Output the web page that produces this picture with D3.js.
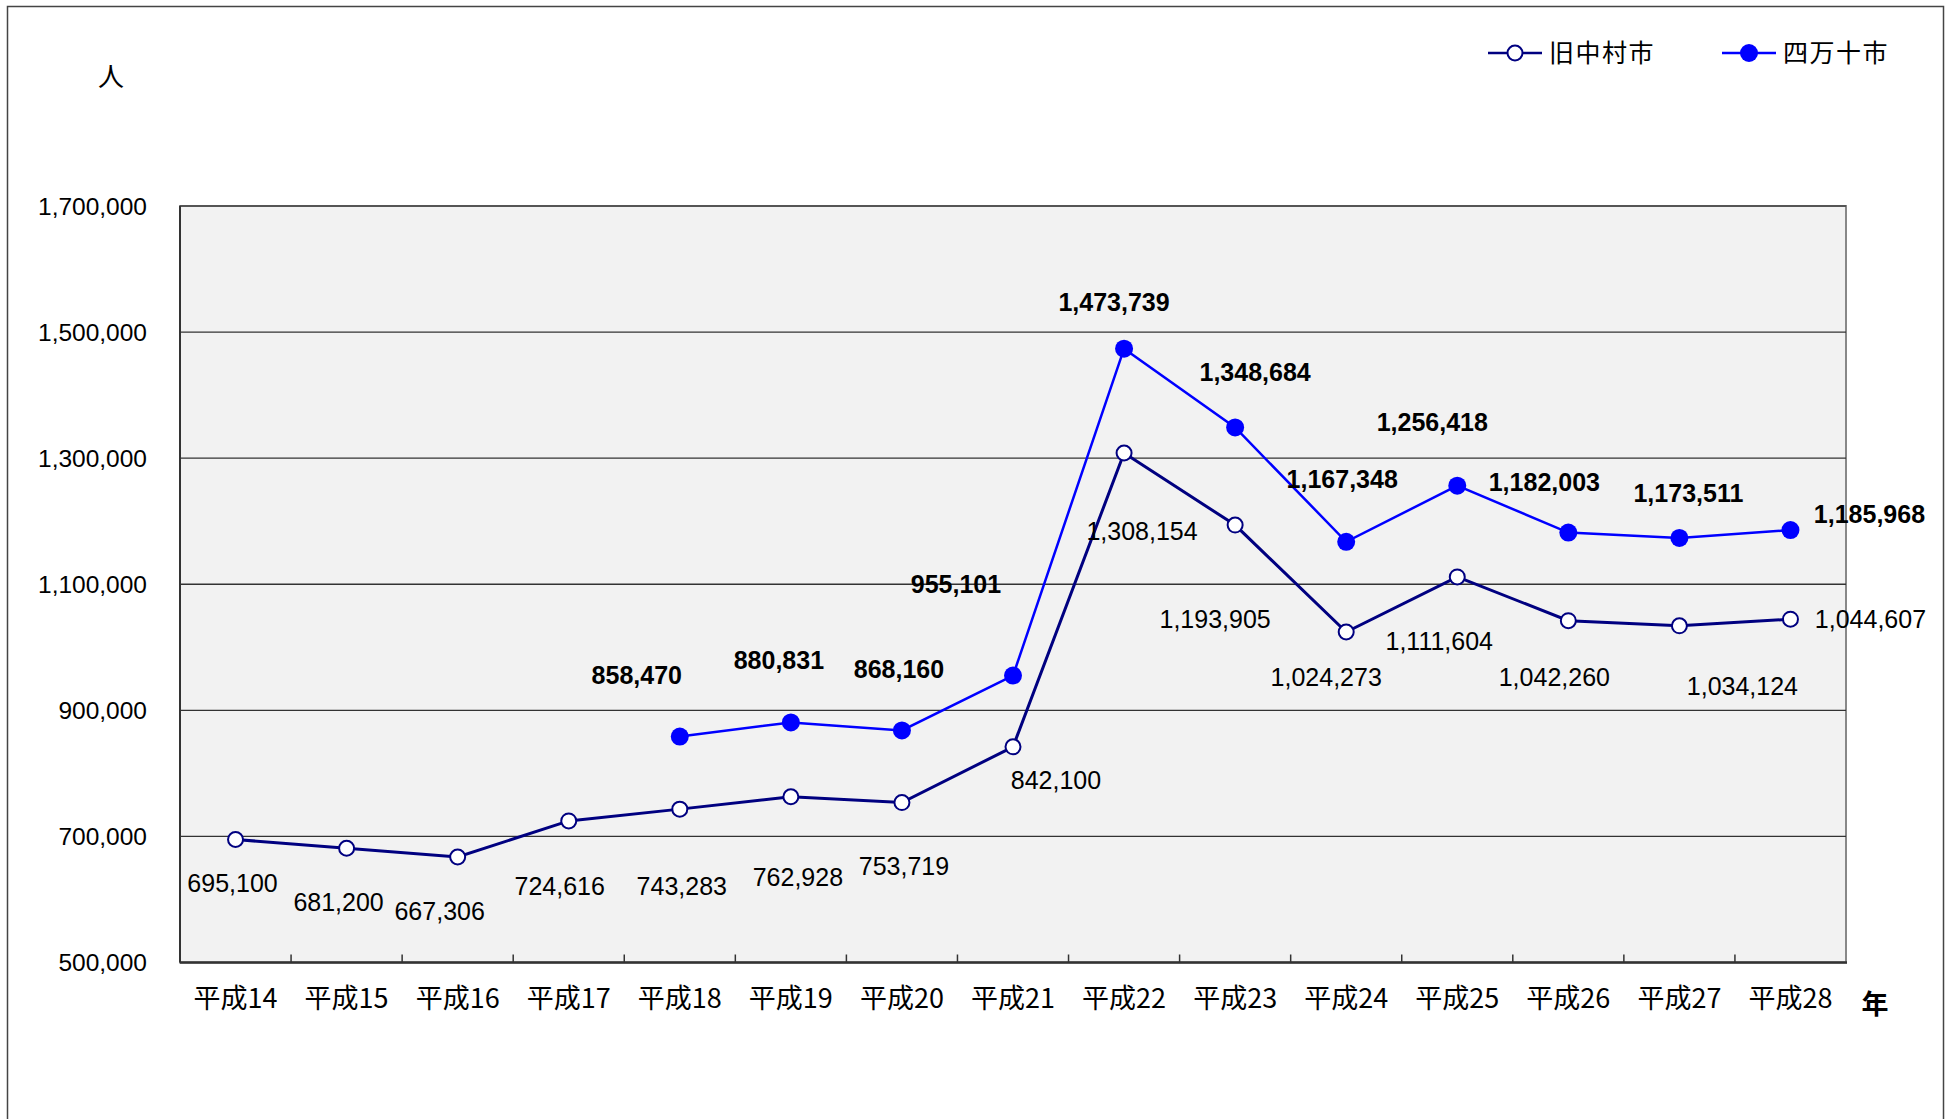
<!DOCTYPE html>
<html>
<head>
<meta charset="utf-8">
<script src="https://cdn.jsdelivr.net/npm/d3@7"></script>
<style>
  body { margin: 0; background: #fff; }
  text { font-family: "Liberation Sans", Arial, sans-serif; }
  .cjk { font-family: "Noto Sans CJK JP", "Noto Sans CJK SC", sans-serif; }
</style>
</head>
<body>
<div id="chart"></div>
<script>
var years = ["平成14","平成15","平成16","平成17","平成18","平成19","平成20","平成21","平成22","平成23","平成24","平成25","平成26","平成27","平成28"];
var nakamura = [695100, 681200, 667306, 724616, 743283, 762928, 753719, 842100, 1308154, 1193905, 1024273, 1111604, 1042260, 1034124, 1044607];
var shimanto = [null, null, null, null, 858470, 880831, 868160, 955101, 1473739, 1348684, 1167348, 1256418, 1182003, 1173511, 1185968];
var yTicks = [500000, 700000, 900000, 1100000, 1300000, 1500000, 1700000];
var seriesNames = ["旧中村市", "四万十市"];

// hand placed label offsets (px) like the original
var nakamuraLabelOff = [[-3,44],[-8,54],[-18,55],[-9,66],[2,78],[7,81],[2,64],[43,34],[18,79],[-20,95],[-20,46],[-18,65],[-14,57],[63,61],[80,1]];
var shimantoLabelOff = [null,null,null,null,[-43,-61],[-12,-62],[-3,-61],[-57,-91],[-10,-46],[20,-55],[-4,-62],[-25,-63],[-24,-50],[9,-44],[79,-15]];

var w = 1945;
var h = 1119;
var plotL = 180, plotR = 1846, plotT = 206, plotB = 962.5;

var svg = d3.select("#chart")
            .append("svg")
            .attr("width", w)
            .attr("height", h);

// outer frame
svg.append("rect")
   .attr("x", 7.5).attr("y", 6.5)
   .attr("width", 1936).attr("height", 1130)
   .attr("fill", "white")
   .attr("stroke", "#444")
   .attr("stroke-width", 1.5);

var x = d3.scaleBand()
          .domain(years)
          .range([plotL, plotR]);

var y = d3.scaleLinear()
          .domain([500000, 1700000])
          .range([plotB, plotT]);

var fmt = d3.format(",");
function cx(i) { return x(years[i]) + x.bandwidth() / 2; }

// plot background
svg.append("rect")
   .attr("x", plotL).attr("y", plotT)
   .attr("width", plotR - plotL).attr("height", plotB - plotT)
   .attr("fill", "#f2f2f2")
   .attr("stroke", "#888")
   .attr("stroke-width", 2);

// gridlines
svg.selectAll(".grid")
   .data(yTicks.slice(1, -1))
   .enter()
   .append("line")
   .attr("x1", plotL).attr("x2", plotR)
   .attr("y1", function(d) { return y(d); })
   .attr("y2", function(d) { return y(d); })
   .attr("stroke", "#333")
   .attr("stroke-width", 1.3);

svg.append("line")
   .attr("x1", plotL).attr("x2", plotR)
   .attr("y1", plotT).attr("y2", plotT)
   .attr("stroke", "#444").attr("stroke-width", 1.5);

// y axis labels
svg.selectAll(".ylab")
   .data(yTicks)
   .enter()
   .append("text")
   .attr("x", 147)
   .attr("y", function(d) { return y(d); })
   .attr("dy", "0.35em")
   .attr("text-anchor", "end")
   .attr("font-size", 24.5)
   .attr("fill", "#000")
   .text(fmt);

// axes lines
svg.append("line")
   .attr("x1", plotL).attr("x2", plotL)
   .attr("y1", plotT).attr("y2", plotB)
   .attr("stroke", "#333").attr("stroke-width", 2);
svg.append("line")
   .attr("x1", plotL).attr("x2", plotR + 1)
   .attr("y1", plotB).attr("y2", plotB)
   .attr("stroke", "#333").attr("stroke-width", 2.5);

// x ticks between categories (pointing up)
svg.selectAll(".xtick")
   .data(years.slice(1))
   .enter()
   .append("line")
   .attr("x1", function(d) { return x(d); })
   .attr("x2", function(d) { return x(d); })
   .attr("y1", plotB).attr("y2", plotB - 8)
   .attr("stroke", "#333").attr("stroke-width", 1.5);

// x labels
svg.selectAll(".xlab")
   .data(years)
   .enter()
   .append("text")
   .attr("class", "cjk")
   .attr("x", function(d) { return x(d) + x.bandwidth() / 2; })
   .attr("y", 999)
   .attr("dy", "0.35em")
   .attr("text-anchor", "middle")
   .attr("font-size", 27)
   .text(function(d) { return d; });

// unit labels
svg.append("text").attr("class", "cjk")
   .attr("x", 111).attr("y", 77).attr("dy", "0.35em")
   .attr("text-anchor", "middle").attr("font-size", 26)
   .text("人");
svg.append("text").attr("class", "cjk")
   .attr("x", 1875).attr("y", 1005).attr("dy", "0.35em")
   .attr("text-anchor", "middle").attr("font-size", 27)
   .attr("font-weight", "bold")
   .text("年");

// lines
var line = d3.line()
             .defined(function(d) { return d != null; })
             .x(function(d, i) { return cx(i); })
             .y(function(d) { return y(d); });

svg.append("path")
   .datum(nakamura)
   .attr("d", line)
   .attr("fill", "none")
   .attr("stroke", "#000080")
   .attr("stroke-width", 3);

svg.append("path")
   .datum(shimanto)
   .attr("d", line)
   .attr("fill", "none")
   .attr("stroke", "#0000ff")
   .attr("stroke-width", 2.5);

// markers
svg.selectAll(".m1")
   .data(nakamura)
   .enter()
   .append("circle")
   .attr("cx", function(d, i) { return cx(i); })
   .attr("cy", function(d) { return y(d); })
   .attr("r", 7.5)
   .attr("fill", "white")
   .attr("stroke", "#000080")
   .attr("stroke-width", 2);

svg.selectAll(".m2")
   .data(shimanto.map(function(d, i) { return {v: d, i: i}; }).filter(function(d) { return d.v != null; }))
   .enter()
   .append("circle")
   .attr("cx", function(d) { return cx(d.i); })
   .attr("cy", function(d) { return y(d.v); })
   .attr("r", 9)
   .attr("fill", "#0000ff");

// data labels
svg.selectAll(".l1")
   .data(nakamura)
   .enter()
   .append("text")
   .attr("x", function(d, i) { return cx(i) + nakamuraLabelOff[i][0]; })
   .attr("y", function(d, i) { return y(d) + nakamuraLabelOff[i][1]; })
   .attr("dy", "0.33em")
   .attr("text-anchor", "middle")
   .attr("font-size", 25)
   .text(fmt);

svg.selectAll(".l2")
   .data(shimanto.map(function(d, i) { return {v: d, i: i}; }).filter(function(d) { return d.v != null; }))
   .enter()
   .append("text")
   .attr("x", function(d) { return cx(d.i) + shimantoLabelOff[d.i][0]; })
   .attr("y", function(d) { return y(d.v) + shimantoLabelOff[d.i][1]; })
   .attr("dy", "0.33em")
   .attr("text-anchor", "middle")
   .attr("font-size", 25)
   .attr("font-weight", "bold")
   .text(function(d) { return fmt(d.v); });

// legend
var legend = [
  {name: seriesNames[0], x: 1488, stroke: "#000080", fill: "white"},
  {name: seriesNames[1], x: 1722, stroke: "#0000ff", fill: "#0000ff"}
];
var lg = svg.selectAll(".legend")
            .data(legend)
            .enter()
            .append("g")
            .attr("transform", function(d) { return "translate(" + d.x + ",53)"; });
lg.append("line")
  .attr("x1", 0).attr("x2", 54)
  .attr("stroke", function(d) { return d.stroke; })
  .attr("stroke-width", 2.5);
lg.append("circle")
  .attr("cx", 27).attr("r", function(d, i) { return i == 0 ? 7.5 : 9; })
  .attr("fill", function(d) { return d.fill; })
  .attr("stroke", function(d, i) { return i == 0 ? d.stroke : "none"; })
  .attr("stroke-width", 2);
lg.append("text")
  .attr("class", "cjk")
  .attr("x", 61)
  .attr("dy", "0.35em")
  .attr("font-size", 25)
  .attr("letter-spacing", 1.5)
  .text(function(d) { return d.name; });
</script>
</body>
</html>
